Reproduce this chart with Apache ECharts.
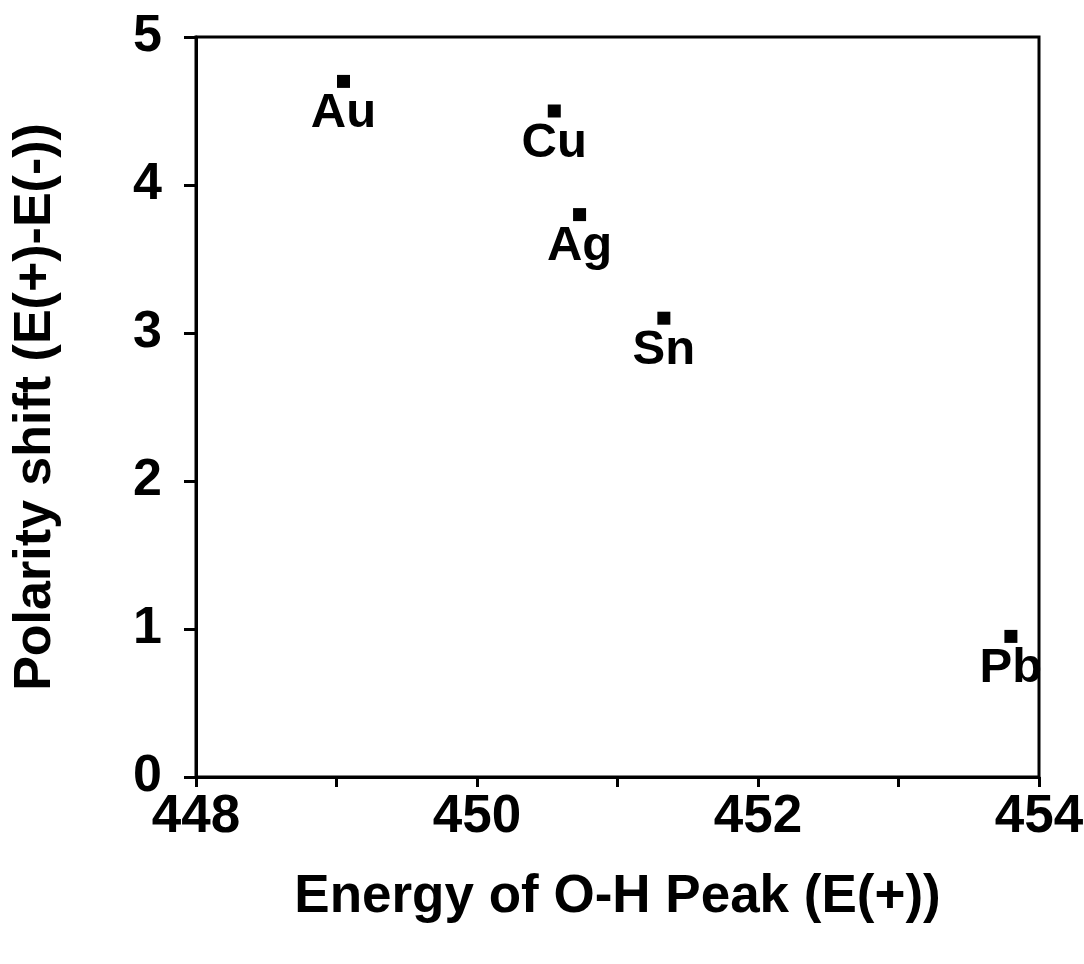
<!DOCTYPE html>
<html>
<head>
<meta charset="utf-8">
<script src="https://cdn.jsdelivr.net/npm/echarts@6/dist/echarts.min.js"></script>
<style>html,body{margin:0;padding:0;background:#fff}#c{width:1084px;height:964px}</style>
</head>
<body>
<div id="c"></div>
<script>
const metals = ['Au', 'Cu', 'Ag', 'Sn', 'Pb'];
const energyOH = [449.05, 450.55, 450.73, 451.33, 453.8];
const polarityShift = [4.7, 4.5, 3.8, 3.1, 0.95];
const xTicks = [448, 450, 452, 454];
const yTicks = [0, 1, 2, 3, 4, 5];
const xTitle = 'Energy of O-H Peak (E(+))';
const yTitle = 'Polarity shift (E(+)-E(-))';

const FONT = '"Liberation Sans", Arial, Helvetica, sans-serif';
const chart = echarts.init(document.getElementById('c'));
const pts = metals.map((m, i) => ({ name: m, value: [energyOH[i], polarityShift[i]] }));
chart.setOption({
  backgroundColor: '#fff',
  animation: false,
  grid: { left: 196, right: 45, top: 37, bottom: 187, show: true, borderColor: '#000', borderWidth: 3,
          containLabel: false, outerBoundsMode: 'none' },
  xAxis: {
    type: 'value', min: 448, max: 454, interval: 1,
    name: xTitle, nameLocation: 'middle', nameGap: 94,
    nameTextStyle: { fontFamily: FONT, fontWeight: 'bold', fontSize: 53, color: '#000' },
    axisLine: { show: true, lineStyle: { color: '#000', width: 3 } },
    axisTick: { show: true, length: 10, inside: false, lineStyle: { color: '#000', width: 3 } },
    axisLabel: {
      fontFamily: FONT, fontWeight: 'bold', fontSize: 53, color: '#000', margin: 14,
      formatter: v => (xTicks.indexOf(v) >= 0 ? String(v) : '')
    },
    splitLine: { show: false }
  },
  yAxis: {
    type: 'value', min: 0, max: 5, interval: 1,
    name: yTitle, nameLocation: 'middle', nameGap: 134, nameRotate: 90,
    nameTextStyle: { fontFamily: FONT, fontWeight: 'bold', fontSize: 52, color: '#000' },
    axisLine: { show: true, lineStyle: { color: '#000', width: 3 } },
    axisTick: { show: true, length: 12, inside: false, lineStyle: { color: '#000', width: 3 } },
    axisLabel: {
      fontFamily: FONT, fontWeight: 'bold', fontSize: 52, color: '#000', margin: 34,
      formatter: v => (yTicks.indexOf(v) >= 0 ? String(v) : '')
    },
    splitLine: { show: false }
  },
  series: [{
    type: 'scatter',
    data: pts,
    symbol: 'rect',
    symbolSize: 13,
    itemStyle: { color: '#000', opacity: 1 },
    label: {
      show: true, position: 'bottom', distance: 1,
      formatter: p => p.name,
      fontFamily: FONT, fontWeight: 'bold', fontSize: 49, color: '#000',
      opacity: 1, textBorderWidth: 0
    },
    emphasis: { disabled: true }
  }]
});
</script>
</body>
</html>
